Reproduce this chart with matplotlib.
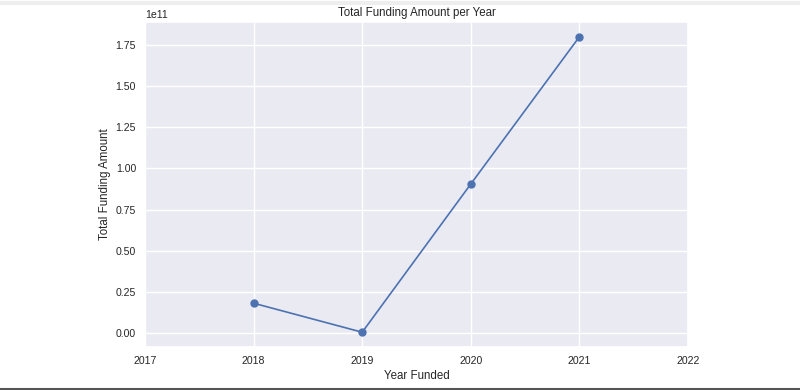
import matplotlib
matplotlib.use("Agg")
import matplotlib.pyplot as plt
from matplotlib.lines import Line2D
import seaborn as sns

years = [2018, 2019, 2020, 2021]
total_funding = [0.182e11, 0.006e11, 0.905e11, 1.798e11]
year_ticks = [2017, 2018, 2019, 2020, 2021, 2022]

sns.set_theme(style="darkgrid")
plt.rcParams["font.family"] = ["Arial", "Liberation Sans", "DejaVu Sans"]

fig = plt.figure(figsize=(8, 3.9), dpi=100)
ax = fig.add_axes([145 / 800, 43 / 390, 543 / 800, 325 / 390])
ax.plot(years, total_funding, marker="o", color="#4c72b0", linewidth=1.2, markersize=5)

ax.set_xlim(2017, 2022)
ax.set_xticks(year_ticks)
ax.set_xticklabels([str(y) for y in year_ticks])
ax.tick_params(axis="both", labelsize=7.6, length=0, pad=6.5, labelcolor="#262626")
ax.set_title("Total Funding Amount per Year", fontsize=8.3, pad=4, color="#262626")
ax.set_xlabel("Year Funded", fontsize=8.3, labelpad=3, color="#262626")
ax.set_ylabel("Total Funding Amount", fontsize=8.3, labelpad=3, color="#262626")
ax.yaxis.get_offset_text().set_fontsize(7.6)

# screenshot frame: faint top shadow and dark bottom edge
fig.add_artist(Line2D([0, 1], [0.993, 0.993], transform=fig.transFigure,
                      color="#eeeeee", linewidth=3))
fig.add_artist(Line2D([0, 1], [0.002, 0.002], transform=fig.transFigure,
                      color="#555555", linewidth=1.5))

fig.savefig("out.png", dpi=100)
plt.close(fig)
